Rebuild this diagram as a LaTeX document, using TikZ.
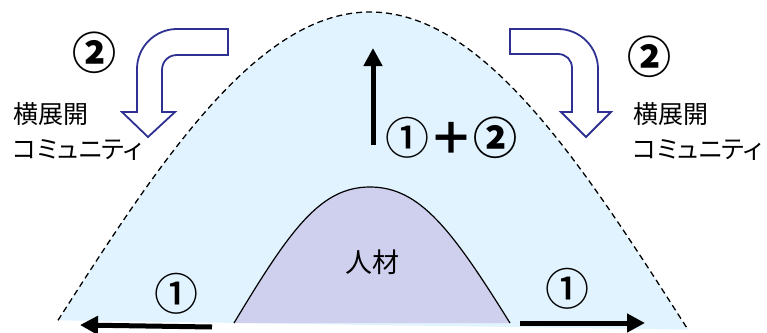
\documentclass[tikz,border=0pt]{standalone}
\usepackage{fontspec}
\newfontfamily\jpfont{Noto Sans CJK JP}
\newfontfamily\jpmid{Noto Sans CJK JP Medium}
\newfontfamily\jpkana[RawFeature=+palt]{Noto Sans CJK JP}
\usetikzlibrary{arrows.meta}
\definecolor{bandblue}{HTML}{E1F3FE}
\definecolor{talentlilac}{HTML}{CFCFEE}
\definecolor{bendnavy}{HTML}{2E3192}
\tikzset{
  circnum/.style={font=\jpmid\fontsize{44}{44}\selectfont, inner sep=0pt},
  jplabel/.style={font=\jpkana\fontsize{25}{27}\selectfont, inner sep=0pt, anchor=west},
  bendarrow/.style={draw=bendnavy, line width=1.8pt, fill=white, line join=miter},
  push/.style={line width=5pt, -{Triangle[length=18pt,width=18pt]}}
}

\begin{document}
\begin{tikzpicture}[x=1pt,y=-1pt]
  \useasboundingbox (0,0) rectangle (767,332);
  % outer bell
  \fill[bandblue] plot[domain=58:688, samples=90, smooth]
    (\x,{325-313*cos(0.2857*(\x-370))}) -- cycle;
  \draw[line width=1.3pt, dash pattern=on 6pt off 4pt] plot[domain=58:688, samples=90, smooth]
    (\x,{325-313*cos(0.2857*(\x-370))});
  % inner bell
  \filldraw[fill=talentlilac, draw=black, line width=1.2pt]
    (234,323) .. controls (290,230) and (320,187) .. (370,187)
              .. controls (420,187) and (452,230) .. (510,323);
  \node[font=\jpfont\fontsize{27}{27}\selectfont] (talent) at (372,262) {人材};

  % bent hollow arrows
  \draw[bendarrow] (228,29) -- (228,55) -- (177,55) .. controls (169,55) and (162,61) .. (162,70)
    -- (162,112) -- (175,112) -- (148,137) -- (122,112) -- (137,112) -- (137,69)
    .. controls (137,47) and (155,29) .. (177,29) -- cycle;
  \draw[bendarrow] (510,29) -- (510,54) -- (558,54) .. controls (566,54) and (572,60) .. (572,68)
    -- (572,112) -- (561,112) -- (586,137) -- (611,112) -- (598,112) -- (598,69)
    .. controls (598,47) and (580,29) .. (558,29) -- cycle;

  \node[circnum] (lefttwo) at (94,53) {\bfseries ②};
  \node[circnum] (righttwo) at (649,57) {\bfseries ②};
  \node[jplabel] (leftspread) at (13,114) {横展開};
  \node[jplabel] (leftcomm) at (13,150) {コミュニティ};
  \node[jplabel] (rightspread) at (633,114) {横展開};
  \node[jplabel] (rightcomm) at (633,150) {コミュニティ};

  % growth arrows
  \coordinate (risefoot) at (373,145);
  \coordinate (risetip) at (373,48);
  \draw[push] (risefoot) -- (risetip);
  \node[circnum] (sumlabel) at (451,138) {①{\bfseries ＋②}};

  \coordinate (leftfoot) at (212,327);
  \coordinate (lefttip) at (80,325);
  \draw[push] (leftfoot) -- (lefttip);
  \node[circnum] (leftone) at (176,294) {①};

  \coordinate (rightfoot) at (520,323);
  \coordinate (righttip) at (645,323);
  \draw[push] (rightfoot) -- (righttip);
  \node[circnum] (rightone) at (567,289) {①};
\end{tikzpicture}
\end{document}
